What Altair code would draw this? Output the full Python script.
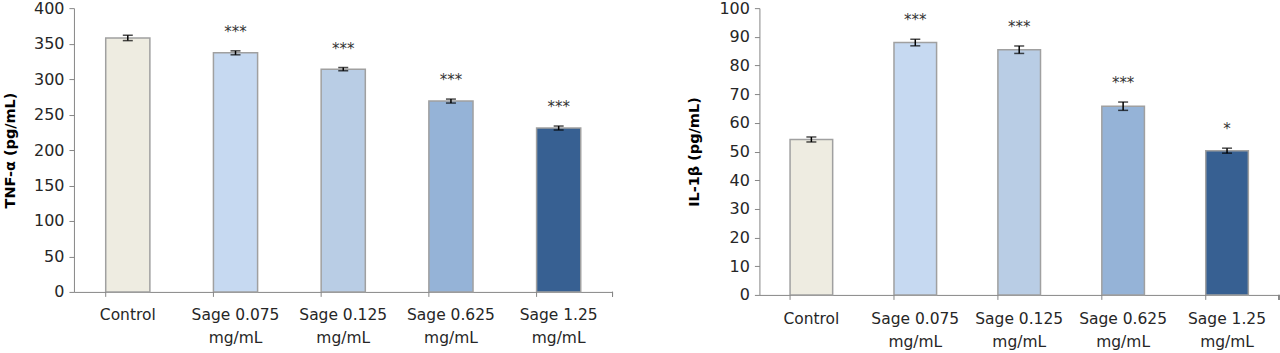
import altair as alt
import pandas as pd

categories = ["Control", "Sage 0.075 mg/mL", "Sage 0.125 mg/mL", "Sage 0.625 mg/mL", "Sage 1.25 mg/mL"]

tnf_values = [358, 337, 314, 269, 231]
tnf_errors = [3.8, 2.8, 2.3, 2.8, 2.8]
tnf_stars = ["", "***", "***", "***", "***"]
tnf_colors = ["#EEECE1", "#C6D9F1", "#B9CDE5", "#95B3D7", "#376092"]

il_values = [54.2, 88.0, 85.5, 65.8, 50.3]
il_errors = [0.87, 1.15, 1.3, 1.45, 0.87]
il_stars = ["", "***", "***", "***", "*"]
il_colors = ["#EEECE1", "#DBE5F1", "#B9CDE5", "#95B3D7", "#366092"]

FONT = "DejaVu Sans"
GRAY = "#868686"
TXT = "#262626"

LABEL_EXPR = ("indexof(datum.label, ' mg') > 0 ? "
              "[substring(datum.label, 0, indexof(datum.label, ' mg')), 'mg/mL'] : datum.label")


def make_panel(values, errors, stars, colors, title, ymax, ystep, width, height, title_x, xpad):
    df = pd.DataFrame({
        "cat": categories,
        "val": values,
        "lo": [v - e for v, e in zip(values, errors)],
        "hi": [v + e for v, e in zip(values, errors)],
        "star": stars,
    })
    xscale = alt.Scale(domain=categories, paddingInner=0.59, paddingOuter=0.295)
    xaxis = alt.Axis(title=None, ticks=False, labelAngle=0, labelExpr=LABEL_EXPR,
                     labelFont=FONT, labelFontSize=15.5, labelColor=TXT,
                     labelPadding=xpad, labelLineHeight=23,
                     domainColor=GRAY, domainWidth=1)
    yscale = alt.Scale(domain=[0, ymax], nice=False)
    yaxis = alt.Axis(values=list(range(0, ymax + 1, ystep)), grid=False,
                     labelOverlap=False,
                     tickSize=5, tickColor=GRAY, domainColor=GRAY,
                     labelFont=FONT, labelFontSize=16, labelColor=TXT, labelPadding=5,
                     title=title, titleFont=FONT, titleFontSize=14.5, titleFontWeight="bold",
                     titleColor="#000000", titleAngle=-90, titleBaseline="middle",
                     titleX=title_x, titleY=height / 2)

    def X(**kw):
        return alt.X("cat:N", sort=categories, scale=xscale, axis=xaxis, **kw)

    def Y(field):
        return alt.Y(field, type="quantitative", scale=yscale, axis=yaxis)

    base = alt.Chart(df)
    bars = base.mark_bar(stroke="#A0A0A0", strokeWidth=1.5).encode(
        x=X(), y=Y("val"),
        color=alt.Color("cat:N", scale=alt.Scale(domain=categories, range=colors), legend=None),
    )
    err = base.mark_rule(color="black", strokeWidth=1.5).encode(
        x=X(), y=Y("lo"), y2="hi:Q")
    cap_lo = base.mark_tick(color="black", size=10, thickness=1.5).encode(
        x=X(), y=Y("lo"))
    cap_hi = base.mark_tick(color="black", size=10, thickness=1.5).encode(
        x=X(), y=Y("hi"))
    txt = base.mark_text(font=FONT, fontSize=15, color="#333333", baseline="middle", dy=-19).encode(
        x=X(), y=Y("hi"), text="star:N")
    cat_ticks = base.mark_rule(color=GRAY, strokeWidth=1).encode(
        x=X(bandPosition=0),
        y=alt.value(height), y2=alt.value(height + 5))
    end_tick = base.mark_rule(color=GRAY, strokeWidth=1).encode(
        x=alt.value(width), y=alt.value(height), y2=alt.value(height + 5))
    return alt.layer(bars, err, cap_lo, cap_hi, txt, cat_ticks, end_tick).properties(
        width=width, height=height)


left = make_panel(tnf_values, tnf_errors, tnf_stars, tnf_colors, "TNF-α (pg/mL)",
                  400, 50, 539, 284, -63, 16)
right = make_panel(il_values, il_errors, il_stars, il_colors, "IL-1β (pg/mL)",
                   100, 10, 520, 287, -65, 17)

chart = alt.hconcat(left, right, spacing=73).properties(
    padding={"left": 3, "top": 0, "right": 0, "bottom": 0},
    background="white",
).configure_view(stroke=None)

chart.save("out.html", embed_options={"renderer": "svg", "actions": False})
